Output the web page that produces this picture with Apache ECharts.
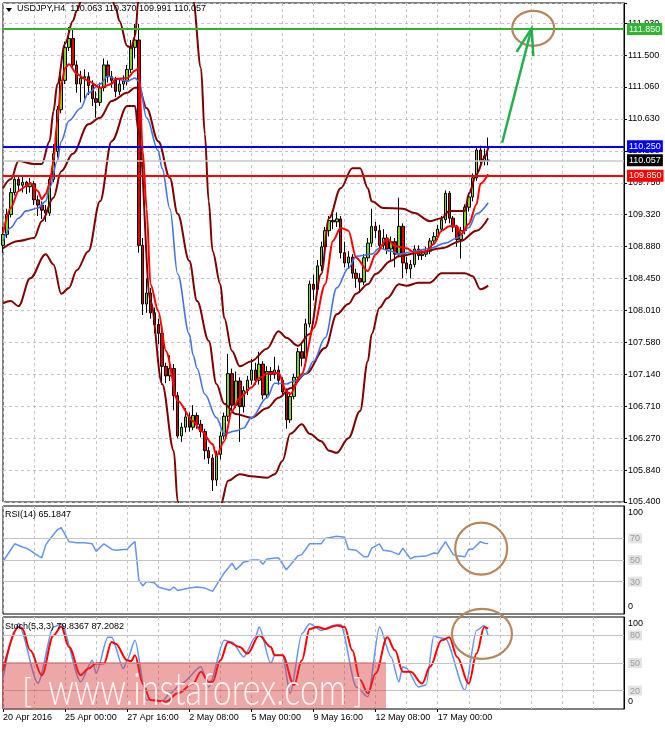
<!DOCTYPE html>
<html><head><meta charset="utf-8">
<script src="https://cdn.jsdelivr.net/npm/echarts@6/dist/echarts.min.js"></script>
<style>html,body{margin:0;padding:0;background:#fff}#c{width:665px;height:729px}</style>
</head><body><div id="c"></div>
<script>
// ---------- DATA ----------
const symbolTitle = 'USDJPY,H4  110.063 110.370 109.991 110.057';
const timeLabels = ['20 Apr 2016','25 Apr 00:00','27 Apr 16:00','2 May 08:00','5 May 00:00','9 May 16:00','12 May 08:00','17 May 00:00'];
const priceTickLabels = ['105.400','105.840','106.270','106.710','107.140','107.580','108.010','108.450','108.880','109.320','109.750','110.190','110.630','111.060','111.500','111.930'];
const priceMin = 105.4, priceStep = 0.43533, priceMax = 112.205;
const slotCount = 161;
// [open, close, low, high]
const ohlc = [
[108.90,109.05,108.80,109.15],[109.05,109.32,109.00,109.40],[109.32,109.62,109.28,109.68],[109.62,109.80,109.58,109.86],
[109.80,109.72,109.65,109.85],[109.72,109.76,109.62,109.84],[109.76,109.70,109.60,109.78],[109.70,109.74,109.62,109.82],
[109.74,109.52,109.45,109.78],[109.52,109.45,109.30,109.58],[109.45,109.38,109.26,109.50],[109.38,109.34,109.22,109.45],
[109.34,109.80,109.30,109.86],[109.80,110.15,109.76,110.28],[110.18,110.75,110.10,110.80],[110.75,111.15,110.70,111.22],
[111.15,111.60,111.10,111.68],[111.60,111.72,111.55,111.88],[111.72,111.36,111.30,111.86],[111.36,111.10,110.98,111.42],
[111.10,111.18,110.85,111.28],[111.18,111.20,110.90,111.30],[111.20,111.08,110.95,111.26],[111.08,110.90,110.80,111.15],
[110.90,110.85,110.64,111.00],[110.85,111.05,110.80,111.12],[111.05,111.36,111.00,111.45],[111.36,111.20,111.12,111.42],
[111.20,111.15,111.05,111.28],[111.15,111.00,110.92,111.20],[111.00,111.10,110.95,111.18],[111.10,111.14,111.02,111.22],
[111.14,111.30,111.08,111.36],[111.30,111.60,111.25,111.70],[111.60,111.70,111.45,111.92],[111.70,108.90,108.80,111.92],
[108.90,108.10,107.95,109.00],[108.10,108.25,107.98,108.45],[108.25,107.98,107.90,108.32],[107.98,107.82,107.70,108.05],
[107.82,107.70,107.55,107.90],[107.70,107.25,107.00,107.75],[107.25,107.12,107.02,107.30],[107.12,107.22,107.05,107.40],
[107.22,106.85,106.65,107.28],[106.85,106.30,106.27,106.90],[106.30,106.42,106.22,106.48],[106.42,106.56,106.35,106.68],
[106.56,106.42,106.36,106.62],[106.42,106.58,106.38,106.72],[106.58,106.46,106.40,106.62],[106.46,106.36,106.28,106.52],
[106.36,106.10,105.98,106.40],[106.10,106.00,105.92,106.15],[106.00,105.70,105.55,106.05],[105.70,106.05,105.62,106.10],
[106.05,106.30,105.98,106.36],[106.30,106.57,106.25,106.62],[106.57,107.15,106.50,107.42],[107.15,106.72,106.62,107.22],
[106.72,107.05,106.68,107.18],[107.05,106.70,106.22,107.10],[106.70,106.92,106.62,106.98],[106.92,107.06,106.86,107.12],
[107.06,107.20,107.00,107.35],[107.20,107.06,107.00,107.30],[107.06,107.28,107.00,107.45],[107.28,106.86,106.80,107.32],
[106.86,107.18,106.82,107.25],[107.18,107.14,107.05,107.24],[107.14,107.20,107.08,107.38],[107.20,107.06,107.00,107.26],
[107.06,106.90,106.84,107.10],[106.90,106.52,106.40,106.95],[106.52,106.84,106.48,106.90],[106.84,107.10,106.80,107.15],
[107.10,107.45,107.05,107.50],[107.45,107.36,107.25,107.55],[107.36,107.83,107.30,107.90],[107.83,108.37,107.78,108.42],
[108.37,108.30,108.15,108.50],[108.30,108.62,108.25,108.70],[108.62,108.88,108.55,108.95],[108.88,109.10,108.80,109.15],
[109.10,109.24,109.02,109.30],[109.24,109.22,109.12,109.34],[109.22,109.26,109.15,109.35],[109.26,108.80,108.72,109.30],
[108.80,108.66,108.60,108.95],[108.66,108.74,108.58,108.82],[108.74,108.52,108.45,108.78],[108.52,108.45,108.32,108.58],
[108.45,108.40,108.25,108.52],[108.40,108.73,108.36,108.78],[108.73,108.93,108.68,109.00],[108.93,109.16,108.88,109.40],
[109.16,109.10,109.00,109.22],[109.10,108.90,108.85,109.18],[108.90,109.00,108.84,109.12],[109.00,108.85,108.78,109.05],
[108.85,108.95,108.70,109.02],[108.95,108.78,108.60,109.00],[108.78,109.16,108.74,109.55],[109.16,108.66,108.45,109.20],
[108.66,108.58,108.52,108.74],[108.58,108.64,108.45,108.70],[108.64,108.85,108.60,108.90],[108.85,108.76,108.70,108.90],
[108.76,108.78,108.70,108.84],[108.78,108.82,108.74,108.88],[108.82,108.96,108.78,109.00],[108.96,109.02,108.92,109.08],
[109.02,109.12,108.98,109.18],[109.12,109.25,109.08,109.30],[109.25,109.61,109.20,109.65],[109.61,109.27,109.20,109.64],
[109.27,109.15,109.08,109.30],[109.15,108.98,108.88,109.18],[108.98,109.10,108.72,109.15],[109.10,109.42,109.05,109.46],
[109.42,109.56,109.36,109.62],[109.56,109.82,109.50,109.88],[109.82,110.20,109.78,110.25],[110.20,110.05,110.00,110.26],
[110.05,110.12,109.99,110.22],[110.063,110.057,109.991,110.370]
];
// indicator lines read at sampled bars: [barIndex, value]
const fastMA = [[0,109.07],[2,109.41],[4,109.64],[6,109.71],[7,109.75],[9,109.64],[10,109.53],[11,109.60],[12,109.74],[13,110.05],[14,110.60],[15,111.10],[16,111.32],[17,111.37],[19,111.24],[21,111.17],[22,111.14],[25,111.05],[28,111.10],[29,111.17],[32,111.18],[34,111.28],[35,111.32],[36,110.19],[37,109.40],[38,108.37],[40,108.00],[42,107.46],[45,106.78],[49,106.50],[51,106.37],[54,106.19],[55,106.03],[57,106.23],[59,106.64],[61,106.82],[64,106.96],[66,107.09],[68,107.15],[71,107.16],[73,106.91],[74,106.87],[77,107.15],[80,107.77],[83,108.37],[85,108.96],[87,109.14],[89,109.10],[91,108.73],[94,108.55],[96,108.78],[99,108.99],[101,108.89],[104,108.86],[106,108.80],[109,108.82],[111,108.92],[113,109.10],[115,109.16],[117,109.16],[118,109.05],[120,109.19],[122,109.46],[123,109.74],[125,109.87]];
const midMA = [[0,108.96],[2,109.14],[4,109.27],[6,109.37],[9,109.41],[11,109.50],[12,109.68],[14,110.05],[15,110.32],[17,110.60],[20,110.77],[22,110.98],[25,111.10],[27,111.21],[29,111.17],[32,111.14],[34,111.18],[35,111.14],[37,110.64],[40,110.19],[41,109.95],[43,109.40],[45,108.51],[48,107.69],[49,107.40],[50,107.22],[52,106.87],[55,106.55],[57,106.33],[60,106.37],[62,106.41],[64,106.55],[68,106.82],[70,107.02],[73,107.01],[75,107.05],[78,107.15],[80,107.32],[83,107.64],[86,108.32],[89,108.59],[91,108.75],[95,108.78],[97,108.86],[100,108.82],[102,108.78],[106,108.82],[110,108.86],[114,108.93],[117,109.00],[120,109.14],[122,109.33],[125,109.48]];
const slowMA = [[0,108.86],[4,108.96],[8,109.00],[10,109.23],[13,109.55],[15,109.91],[18,110.15],[22,110.55],[25,110.64],[28,110.87],[32,110.98],[34,111.05],[35,111.05],[37,110.77],[40,110.32],[43,109.82],[45,109.33],[48,108.69],[50,108.14],[53,107.60],[55,107.01],[57,106.74],[60,106.60],[64,106.55],[68,106.68],[71,106.82],[74,106.95],[78,107.15],[83,107.50],[86,107.96],[89,108.10],[91,108.24],[94,108.37],[96,108.51],[100,108.69],[102,108.75],[107,108.80],[113,108.86],[118,108.96],[122,109.10],[125,109.27]];
const bandUpper = [[0,109.68],[2,109.80],[4,110.05],[8,110.01],[10,110.01],[12,110.32],[13,110.73],[14,111.10],[16,111.65],[18,111.96],[19,112.10],[21,112.38],[24,112.60],[27,112.45],[29,112.15],[30,111.96],[32,111.62],[33,111.59],[34,111.75],[35,112.30],[37,113.6],[40,114.8],[43,115.2],[46,114.6],[48,113.3],[49,112.23],[51,111.32],[52,110.42],[53,109.50],[54,108.82],[56,108.37],[57,107.91],[59,107.46],[61,107.25],[64,107.32],[68,107.49],[71,107.73],[73,107.64],[76,107.53],[79,107.69],[82,108.51],[84,109.27],[87,109.68],[90,109.95],[92,109.95],[94,109.68],[95,109.50],[98,109.41],[103,109.40],[106,109.34],[110,109.23],[113,109.27],[115,109.37],[119,109.37],[120,109.60],[122,109.87],[124,110.09],[125,110.23]];
const bandLower = [[0,108.11],[2,108.14],[4,108.07],[7,108.45],[11,108.78],[13,108.64],[15,108.24],[17,108.32],[19,108.56],[22,108.82],[25,109.50],[28,110.32],[32,110.80],[34,110.80],[35,110.42],[38,108.14],[41,107.01],[44,106.10],[45,105.41],[47,104.6],[50,104.0],[53,104.1],[55,104.8],[56,105.35],[58,105.69],[61,105.78],[64,105.75],[68,105.73],[70,105.78],[72,105.96],[74,106.33],[77,106.46],[79,106.33],[82,106.23],[84,106.10],[86,106.07],[89,106.27],[92,106.64],[94,107.32],[95,107.69],[97,108.05],[99,108.18],[102,108.37],[104,108.35],[107,108.39],[110,108.39],[113,108.52],[119,108.52],[121,108.48],[123,108.30],[125,108.35]];
const rsi = [[0,48.6],[2,59.5],[3,65],[5,62],[6,61],[7,59],[9,54],[10,52],[11,64],[12,69],[14,78],[15,80],[17,67],[19,66],[21,66],[23,65],[24,58],[26,65],[28,60],[29,59],[32,60],[33,64],[34,67],[35,31.6],[36,26],[37,30],[39,29],[40,25],[43,22],[44,25],[45,21.8],[48,24],[50,25],[52,24],[54,21],[56,32.5],[57,38],[59,47],[60,41],[62,48],[64,50],[66,50],[67,46],[68,51],[71,52],[73,41],[76,54],[77,55],[79,65],[82,65],[83,70],[86,72],[88,71],[89,60],[91,59],[93,53],[94,53],[95,61],[97,65],[98,59],[100,58],[102,55],[103,61],[105,51],[106,53],[109,53.6],[111,56.5],[112,56],[114,67],[116,55],[117,54],[119,53],[120,60],[121,60],[123,67],[124,65.5],[125,65.2]];
const stochMain = [[0,33],[3,85],[4,93],[9,28],[13,89],[15,92.6],[20,29.5],[23,53],[24,38.6],[27,78],[28,78],[31,44],[32,53],[34,74.6],[37,9.7],[38,9.7],[41,8],[43,17],[46,27.7],[51,45.8],[53,24],[57,74.6],[59,72.8],[62,56.6],[65,78],[66,89],[69,49.4],[70,58.4],[72,58.4],[74,17],[77,81.8],[79,92.6],[82,85.4],[85,90.8],[87,91.9],[91,24],[94,13.3],[97,89],[100,56.6],[102,29.5],[103,45.8],[104,44],[107,24],[109,26],[111,80],[112,78],[114,76.4],[119,20.5],[122,85.4],[124,90.8],[125,79.8]];
const stochSignal = [[0,42],[4,89],[5,87],[7,63.8],[10,36.8],[13,80],[15,89.7],[17,67.4],[20,36.8],[22,44],[24,49.4],[26,49.4],[28,72.8],[29,71],[32,53],[33,51.9],[34,58.4],[36,27.7],[38,9.7],[42,8],[45,17],[49,27.7],[51,40.4],[53,29.5],[54,29.5],[56,53],[58,72.8],[61,67.4],[63,60.2],[66,80],[69,67.4],[70,58.4],[72,58.4],[75,26],[77,53],[79,87],[81,89],[83,87],[86,90.8],[88,89],[90,63.8],[92,31.4],[94,17],[96,38.6],[99,78],[101,63.8],[103,40.4],[105,40.4],[108,27.7],[110,45.8],[113,74.6],[115,78],[117,56.6],[120,27.7],[122,60.2],[124,89],[125,87.2]];
const priceLevels = [
  {v:111.850, text:'111.850', color:'#2fb52f'},
  {v:110.250, text:'110.250', color:'#0000ff'},
  {v:110.057, text:'110.057', color:'#c8c8c8', box:'#000000'},
  {v:109.850, text:'109.850', color:'#ff0000'}
];
const rsiLevels = [70,50,30];
const stochLevels = [80,50,20];
const rsiTitle = 'RSI(14) 65.1847';
const stochTitle = 'Stoch(5,3,3) 79.8367 87.2082';
const watermarkText = 'www.instaforex.com';
const arrowFrom = [128.6, 110.30], arrowTo = [136.2, 111.86];
const targetCircle = {at:[136.6, 111.86], rx:21, ry:17.5};
const rsiCircle = {at:[123.2, 60.5], rx:26, ry:26};
const stochCircle = {at:[123.4, 81.6], rx:30, ry:25};

// ---------- CHART ----------
const FONT = 'Liberation Sans, Arial, sans-serif';
const barKeys = Array.from({length: slotCount}, (_, i) => 'b' + i);
const chart = echarts.init(document.getElementById('c'), null, {renderer: 'canvas'});
const grids = [
  {left:3, top:3, width:621, height:499},
  {left:3, top:506, width:621, height:108},
  {left:3, top:617, width:621, height:92}
].map(g => Object.assign({show:true, borderColor:'#000', borderWidth:1, backgroundColor:'transparent', containLabel:false}, g));

const every16 = (i) => i % 16 === 0 && i / 16 < timeLabels.length;
const every8 = (i) => i % 8 === 0;
const xAxes = [0,1,2].map(g => ({
  type:'category', gridIndex:g, data:barKeys, boundaryGap:false,
  axisLine:{show:false},
  axisTick:{show:g===2, interval:every16, length:3, lineStyle:{color:'#000'}},
  axisLabel:{show:g===2, interval:every16, align:'left', margin:4, fontSize:9, color:'#000', fontFamily:FONT,
    formatter:(v, i) => (i % 16 === 0 && timeLabels[i/16]) ? timeLabels[i/16] : ''},
  splitLine:{show:true, interval:every8, lineStyle:{color:'#c4c4c4', type:[3,3], width:1}}
}));

const osciRich = {
  top:{padding:[13,0,0,0], fontSize:9, color:'#000', fontFamily:FONT},
  bot:{padding:[0,0,14,0], fontSize:9, color:'#000', fontFamily:FONT},
  lv:{fontSize:9, color:'#9a9a9a', backgroundColor:'#e4e4e4', padding:[1,2,0,2], fontFamily:FONT}
};
function osciAxis(g, levels){
  return {type:'value', gridIndex:g, position:'right', min:0, max:100, interval:10,
    axisLine:{show:true, lineStyle:{color:'#000'}}, axisTick:{show:false}, splitLine:{show:false},
    axisLabel:{margin:4, rich:osciRich, formatter:(v) => {
      if (v === 100) return '{top|100}';
      if (v === 0) return '{bot|0}';
      if (levels.indexOf(v) >= 0) return '{lv|' + v + '}';
      return '';
    }}};
}
const yAxes = [
  {type:'value', gridIndex:0, position:'right', min:priceMin, max:priceMax, interval:priceStep,
   axisLine:{show:true, lineStyle:{color:'#000'}}, axisTick:{show:true, length:3, lineStyle:{color:'#000'}},
   axisLabel:{margin:4, fontSize:9, color:'#000', fontFamily:FONT, formatter:(v) => {
     const k = Math.round((v - priceMin) / priceStep);
     if (Math.abs(v - (priceMin + k * priceStep)) > 0.01) return '';
     return priceTickLabels[k] || '';
   }},
   splitLine:{show:true, lineStyle:{color:'#c4c4c4', type:[3,3], width:1}}},
  osciAxis(1, rsiLevels),
  osciAxis(2, stochLevels)
];

function line(name, data, color, width, g, z, smooth){
  return {name, type:'line', data, xAxisIndex:g, yAxisIndex:g, showSymbol:false, symbol:'none',
    smooth: smooth, smoothMonotone:'x', clip:true, z:z, silent:true,
    lineStyle:{color, width}};
}
function levelSeries(g, levels){
  return {type:'line', xAxisIndex:g, yAxisIndex:g, data:[], silent:true, z:1,
    markLine:{symbol:['none','none'], silent:true, animation:false, label:{show:false},
      data: levels.map(v => ({yAxis:v, lineStyle:{color:'#c4c4c4', width:1.2, type:'solid'}}))}};
}

const series = [
  {type:'candlestick', xAxisIndex:0, yAxisIndex:0, data:ohlc, barWidth:3, z:2, silent:true,
   itemStyle:{color:'#7ed321', color0:'#e00000', borderColor:'#000', borderColor0:'#000', borderWidth:1}},
  line('slowMA', slowMA, '#800000', 2, 0, 3, 0.35),
  line('bandUpper', bandUpper, '#800000', 2, 0, 3, 0.35),
  line('bandLower', bandLower, '#800000', 2, 0, 3, 0.35),
  line('midMA', midMA, '#4672e0', 1.6, 0, 4, 0.35),
  line('fastMA', fastMA, '#ff0000', 2, 0, 5, 0.3),
  {type:'line', xAxisIndex:0, yAxisIndex:0, data:[], silent:true, z:6,
   markLine:{symbol:['none','none'], silent:true, animation:false,
     data: priceLevels.map(l => ({yAxis:l.v,
       lineStyle:{color:l.color, width: l.box ? 1.5 : 2, type:'solid'},
       label:{show:true, position:'end', distance:3, formatter:l.text, color:'#fff',
         backgroundColor: l.box || l.color, padding:[2,2,1,2], fontSize:9, fontFamily:FONT}}))}},
  levelSeries(1, rsiLevels),
  line('rsi', rsi, '#6495ed', 1.5, 1, 3, false),
  levelSeries(2, stochLevels),
  line('stochMain', stochMain, '#6495ed', 1.5, 2, 3, 0.25),
  line('stochSignal', stochSignal, '#ff0000', 2, 2, 4, 0.35)
];

chart.setOption({
  animation:false,
  backgroundColor:'#ffffff',
  grid:grids, xAxis:xAxes, yAxis:yAxes, series:series
});

// ---------- ANNOTATIONS (positioned through the chart scales) ----------
function px(g, idx, val){
  const a = chart.convertToPixel({gridIndex:g}, [100, val]);
  const b = chart.convertToPixel({gridIndex:g}, [110, val]);
  return [a[0] + (idx - 100) * (b[0] - a[0]) / 10, a[1]];
}
const tail = px(0, arrowFrom[0], arrowFrom[1]);
const tip = px(0, arrowTo[0], arrowTo[1]);
const dx = tail[0] - tip[0], dy = tail[1] - tip[1];
const len = Math.hypot(dx, dy), ux = dx / len, uy = dy / len;
const ang = 18 * Math.PI / 180, hl = 28;
const h1 = [tip[0] + hl * (ux * Math.cos(ang) - uy * Math.sin(ang)), tip[1] + hl * (ux * Math.sin(ang) + uy * Math.cos(ang))];
const h2 = [tip[0] + hl * (ux * Math.cos(-ang) - uy * Math.sin(-ang)), tip[1] + hl * (ux * Math.sin(-ang) + uy * Math.cos(-ang))];
function ellipse(g, c){
  const p = px(g, c.at[0], c.at[1]);
  return {type:'ellipse', z:50, silent:true, shape:{cx:p[0], cy:p[1], rx:c.rx, ry:c.ry},
    style:{fill:'none', stroke:'#b8865c', lineWidth:2.2}};
}
const green = '#23b04a';
const wmFill = 'rgba(255,255,255,0.9)';
chart.setOption({graphic:[
  {type:'polygon', z:60, shape:{points:[[6,8],[12,8],[9,12]]}, style:{fill:'#000'}},
  {type:'text', z:60, left:17, top:4, style:{text:symbolTitle, fill:'#000', font:'9px ' + FONT}},
  {type:'text', z:60, left:5, top:510, style:{text:rsiTitle, fill:'#000', font:'9px ' + FONT}},
  {type:'text', z:60, left:5, top:622, style:{text:stochTitle, fill:'#000', font:'9px ' + FONT}},
  {type:'polyline', z:55, silent:true, shape:{points:[tail, tip]}, style:{stroke:green, lineWidth:2.5, fill:'none'}},
  {type:'polyline', z:55, silent:true, shape:{points:[h1, tip, h2]}, style:{stroke:green, lineWidth:2.5, fill:'none'}},
  ellipse(0, targetCircle),
  ellipse(1, rsiCircle),
  ellipse(2, stochCircle),
  {type:'rect', z:80, silent:true, shape:{x:2, y:662, width:384, height:47}, style:{fill:'rgba(214,60,60,0.45)'}},
  {type:'text', z:81, silent:true, x:22, y:692, style:{text:'[', fill:wmFill, font:'300 34px Lato, ' + FONT, verticalAlign:'middle'}},
  {type:'text', z:81, silent:true, x:48, y:690, scaleY:1.35, originY:0, style:{text:watermarkText, fill:wmFill, font:'300 34px Lato, ' + FONT, verticalAlign:'middle'}},
  {type:'text', z:81, silent:true, x:353, y:692, style:{text:']', fill:wmFill, font:'300 34px Lato, ' + FONT, verticalAlign:'middle'}}
]});
</script></body></html>
